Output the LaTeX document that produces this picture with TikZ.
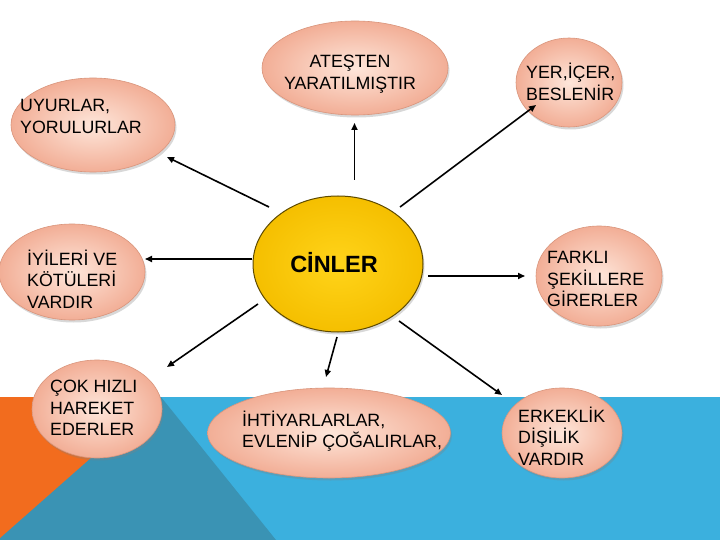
\documentclass[tikz,border=0pt]{standalone}
\usepackage{fontspec}
\setmainfont{Liberation Sans}
\usetikzlibrary{shapes.geometric,shadows,arrows.meta}
\definecolor{peachin}{HTML}{FEE6DA}
\definecolor{peachout}{HTML}{F2AE96}
\definecolor{peachline}{HTML}{D9957C}
\definecolor{goldin}{HTML}{FFD41A}
\definecolor{goldout}{HTML}{F5BF00}
\definecolor{goldline}{HTML}{5E4A00}
\definecolor{bandblue}{HTML}{3BB0DE}
\definecolor{bandteal}{HTML}{3A93B4}
\definecolor{bandorange}{HTML}{F26C1E}
\begin{document}
\begin{tikzpicture}[x=1pt,y=-1pt,
  peach/.style={ellipse, inner sep=0pt, draw=peachline, line width=0.6pt,
    inner color=peachin, outer color=peachout,
    drop shadow={opacity=0.3, shadow xshift=1.5pt, shadow yshift=-2.5pt}},
  gold/.style={ellipse, inner sep=0pt, draw=goldline, line width=1pt,
    inner color=goldin, outer color=goldout,
    drop shadow={opacity=0.3, shadow xshift=1.5pt, shadow yshift=-2.5pt}},
  txt/.style={inner sep=0pt, align=left, anchor=west,
    font=\fontsize{17.8}{21.5}\selectfont},
  arr/.style={line width=1.6pt, -{Triangle[length=7pt,width=6pt]}}]
\useasboundingbox (0,0) rectangle (720,540);
\fill[white] (0,0) rectangle (720,540);
% bottom band
\fill[bandblue] (0,397) rectangle (720,540);
\fill[bandteal] (161,397) -- (276,540) -- (0,540) -- (0,397) -- cycle;
\fill[bandorange] (0,397) -- (160,397) -- (0,538) -- cycle;

% ellipses
\node[peach, minimum width=164pt, minimum height=94pt] (u) at (93,125) {};
\node[peach, minimum width=186pt, minimum height=94pt] (ates) at (355,68) {};
\node[peach, minimum width=106pt, minimum height=89pt] (yer) at (569,82.5) {};
\node[peach, minimum width=146pt, minimum height=96pt] (iyi) at (72,272) {};
\node[peach, minimum width=126pt, minimum height=100pt] (fark) at (599,276) {};
\node[peach, minimum width=130pt, minimum height=98pt] (cok) at (97,409) {};
\node[peach, minimum width=243pt, minimum height=90pt] (iht) at (329,433) {};
\node[peach, minimum width=120pt, minimum height=90pt] (erk) at (562,433) {};
\node[gold, minimum width=170pt, minimum height=136pt] (c) at (338,264) {};

% texts
\node[txt] (ut) at (20,116.5) {UYURLAR,\\YORULURLAR};
\node[txt, anchor=center, align=center] (at) at (350,74) {ATEŞTEN\\YARATILMIŞTIR};
\node[txt] (yt) at (526,82) {YER,İÇER,\\BESLENİR};
\node[txt] (it) at (27,279) {İYİLERİ VE\\KÖTÜLERİ\\VARDIR};
\node[txt] (ft) at (547,279) {FARKLI\\ŞEKİLLERE\\GİRERLER};
\node[txt] (ct) at (50,408) {ÇOK HIZLI\\HAREKET\\EDERLER};
\node[txt] (ht) at (242,431) {İHTİYARLARLAR,\\EVLENİP ÇOĞALIRLAR,};
\node[txt] (et) at (518,436) {ERKEKLİK\\DİŞİLİK\\VARDIR};
\node[inner sep=0pt, font=\fontsize{23.5}{28}\selectfont\bfseries] (ctext) at (334,263) {CİNLER};

% arrow end points
\coordinate (c-u) at (269,207);   \coordinate (u-in) at (167,157);
\coordinate (c-a) at (354.5,180); \coordinate (a-in) at (354.5,123);
\coordinate (c-y) at (400,207);   \coordinate (y-in) at (536,105);
\coordinate (c-i) at (252,259);   \coordinate (i-in) at (145,259);
\coordinate (c-f) at (428,276);   \coordinate (f-in) at (525,276);
\coordinate (c-k) at (258,304);   \coordinate (k-in) at (167,367);
\coordinate (c-h) at (337,337);   \coordinate (h-in) at (326,377);
\coordinate (c-e) at (399,321);   \coordinate (e-in) at (502,395);

\draw[arr] (c-u) -- (u-in);
\draw[arr] (c-a) -- (a-in);
\draw[arr] (c-y) -- (y-in);
\draw[arr] (c-i) -- (i-in);
\draw[arr] (c-f) -- (f-in);
\draw[arr] (c-k) -- (k-in);
\draw[arr] (c-h) -- (h-in);
\draw[arr] (c-e) -- (e-in);
\end{tikzpicture}
\end{document}
